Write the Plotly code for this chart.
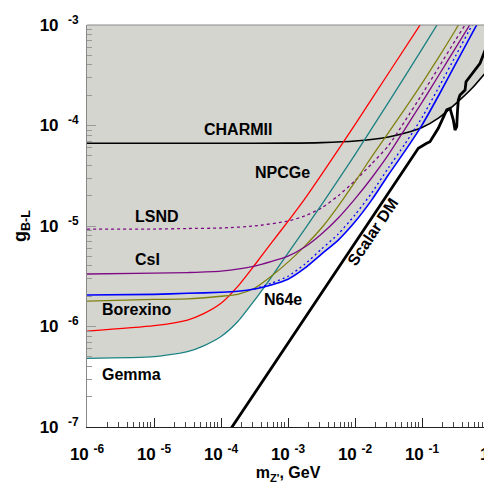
import numpy as np
import plotly.graph_objects as go

# ---------------- data ----------------
# Z' mass in GeV, coupling g_{B-L}
NPCGE_M = [1e-6, 1e-5, 3.16e-5, 5.62e-5, 1e-4, 1.78e-4, 3.16e-4, 5.62e-4, 1e-3, 1.78e-3, 3.16e-3, 1e-2, 3.16e-2, 0.1]
NPCGE_G = [9.0e-7, 1.02e-6, 1.16e-6, 1.35e-6, 1.70e-6, 2.51e-6, 4.07e-6, 6.76e-6, 1.11e-5, 1.86e-5, 3.24e-5, 1.02e-4, 3.31e-4, 1.07e-3]

GEMMA_M = [1e-6, 1e-5, 3.16e-5, 5.62e-5, 1e-4, 1.78e-4, 3.16e-4, 5.62e-4, 1e-3, 1.78e-3, 3.16e-3, 5.62e-3,
           1e-2, 3.16e-2, 0.1, 0.178]
GEMMA_G = [4.82e-7, 5.01e-7, 5.62e-7, 6.46e-7, 7.94e-7, 1.12e-6, 1.82e-6, 3.09e-6, 5.37e-6, 9.33e-6, 1.62e-5, 2.88e-5,
           5.13e-5, 1.70e-4, 5.75e-4, 1.07e-3]

BOREXINO_M = [1e-6, 1e-5, 3.16e-5, 1e-4, 1.78e-4, 3.16e-4, 5.62e-4, 1e-3, 1.78e-3, 3.16e-3, 5.62e-3, 1e-2,
              1.78e-2, 3.16e-2, 5.62e-2, 0.1, 0.178, 0.316, 0.398]
BOREXINO_G = [1.79e-6, 1.86e-6, 1.88e-6, 2.0e-6, 2.09e-6, 2.40e-6, 3.16e-6, 4.37e-6, 6.31e-6, 9.55e-6, 1.58e-5, 2.75e-5,
              4.90e-5, 8.51e-5, 1.48e-4, 2.63e-4, 4.79e-4, 8.91e-4, 1.17e-3]

N64E_M = [1e-6, 1e-5, 3.16e-5, 1e-4, 1.78e-4, 3.16e-4, 5.62e-4, 1e-3, 1.78e-3, 3.16e-3, 5.62e-3, 1e-2,
          1.78e-2, 3.16e-2, 5.62e-2, 0.1, 0.178, 0.316, 0.562, 0.708]
N64E_G = [2.06e-6, 2.09e-6, 2.14e-6, 2.19e-6, 2.24e-6, 2.36e-6, 2.59e-6, 2.95e-6, 3.80e-6, 5.25e-6, 7.24e-6, 1.10e-5,
          1.82e-5, 3.24e-5, 5.62e-5, 1.01e-4, 2.0e-4, 4.07e-4, 8.32e-4, 1.10e-3]

N64E_DOT_M = [3.16e-4, 5.62e-4, 1e-3, 1.78e-3, 3.16e-3, 5.62e-3, 1e-2, 1.78e-2, 3.16e-2, 5.62e-2, 0.1, 0.178, 0.316, 0.562, 0.631]
N64E_DOT_G = [2.36e-6, 2.69e-6, 3.16e-6, 4.17e-6, 5.89e-6, 8.32e-6, 1.29e-5, 2.14e-5, 3.80e-5, 6.61e-5, 1.20e-4, 2.40e-4, 4.90e-4, 1.0e-3, 1.12e-3]

CSI_M = [1e-6, 1e-5, 3.16e-5, 1e-4, 3.16e-4, 1e-3, 1.78e-3, 3.16e-3, 5.62e-3, 1e-2, 1.78e-2, 3.16e-2, 5.62e-2,
         0.1, 0.178, 0.316, 0.562]
CSI_G = [3.33e-6, 3.39e-6, 3.44e-6, 3.55e-6, 3.98e-6, 5.01e-6, 6.17e-6, 8.32e-6, 1.20e-5, 1.86e-5, 3.02e-5, 5.13e-5, 9.33e-5,
         1.70e-4, 3.16e-4, 5.89e-4, 1.10e-3]

LSND_M = [1e-6, 1e-5, 3.16e-5, 1e-4, 3.16e-4, 1e-3, 1.78e-3, 3.16e-3, 5.62e-3, 1e-2, 1.78e-2, 3.16e-2, 5.62e-2,
          0.1, 0.178, 0.316, 0.501]
LSND_G = [9.33e-6, 9.33e-6, 9.44e-6, 9.55e-6, 1.0e-5, 1.12e-5, 1.26e-5, 1.51e-5, 2.0e-5, 2.82e-5, 4.17e-5, 6.31e-5, 1.12e-4,
          2.04e-4, 3.80e-4, 7.08e-4, 1.15e-3]

CHARM_M = [1e-6, 1e-4, 1e-3, 3.16e-3, 1e-2, 3.16e-2, 5.62e-2, 0.1, 0.178, 0.316, 0.562, 1.0]
CHARM_G = [6.65e-5, 6.65e-5, 6.68e-5, 6.76e-5, 7.01e-5, 7.69e-5, 8.41e-5, 9.55e-5, 1.19e-4, 1.64e-4, 2.36e-4, 3.69e-4]

SCALAR_M = [1e-4, 6.61e-2, 8.81e-2, 0.1175, 0.1315, 0.175, 0.234, 0.262, 0.293, 0.311, 0.330, 0.337, 0.348,
            0.369, 0.439, 0.454, 0.520, 0.735, 1.0]
SCALAR_G = [6.86e-8, 4.53e-5, 5.93e-5, 6.65e-5, 6.90e-5, 9.38e-5, 1.43e-4, 1.48e-4, 1.14e-4, 9.02e-5, 9.73e-5, 1.32e-4, 1.79e-4,
            2.01e-4, 2.25e-4, 2.73e-4, 3.06e-4, 4.16e-4, 7.08e-4]

X_TICKS = [1e-6, 1e-5, 1e-4, 1e-3, 1e-2, 1e-1]
X_TICKTEXT = ["10&nbsp;<sup>-6</sup>", "10&nbsp;<sup>-5</sup>", "10&nbsp;<sup>-4</sup>", "10&nbsp;<sup>-3</sup>",
              "10&nbsp;<sup>-2</sup>", "10&nbsp;<sup>-1</sup>"]
X_LAST_TICK = "1"   # label of the 10^0 tick at the right edge
Y_TICKS = [1e-7, 1e-6, 1e-5, 1e-4, 1e-3]
Y_TICKTEXT = ["10&nbsp;&nbsp;<sup>-7</sup>", "10&nbsp;&nbsp;<sup>-6</sup>", "10&nbsp;&nbsp;<sup>-5</sup>",
              "10&nbsp;&nbsp;<sup>-4</sup>", "10&nbsp;&nbsp;<sup>-3</sup>"]

# ---------------- styling ----------------
GRAY = "#d5d5d0"
RED = "#ff0000"
TEAL = "#1a8080"
OLIVE = "#808010"
PURPLE = "#7d0a84"
BLUE = "#0000ff"
FONT = "Liberation Sans, Arial, Helvetica, sans-serif"

# lower envelope of the excluded (gray) region: min of Gemma, N64e, CHARMII
def _lg(a):
    return np.log10(np.asarray(a, dtype=float))

fine = np.linspace(-6, 0, 721)
env = np.minimum.reduce([
    np.interp(fine, _lg(GEMMA_M), _lg(GEMMA_G), right=5.0),
    np.interp(fine, _lg(N64E_M), _lg(N64E_G), right=5.0),
    np.interp(fine, _lg(CHARM_M), _lg(CHARM_G)),
])
fine_m = 10 ** fine
env_g = 10 ** env

fig = go.Figure()
# white (allowed) area below the envelope; plot background is gray
fig.add_trace(go.Scatter(x=fine_m, y=np.full_like(fine_m, 1e-9), mode="lines",
                         line=dict(width=0, color="white"), hoverinfo="skip", showlegend=False))
fig.add_trace(go.Scatter(x=fine_m, y=env_g, mode="lines", fill="tonexty", fillcolor="white",
                         line=dict(width=0, color="white"), hoverinfo="skip", showlegend=False))

def curve(m, g, color, width=1.3, dash="solid"):
    fig.add_trace(go.Scatter(x=m, y=g, mode="lines", showlegend=False,
                             line=dict(color=color, width=width, dash=dash, shape="spline", smoothing=0.6)))

curve(CHARM_M, CHARM_G, "black", 1.6)
curve(LSND_M, LSND_G, PURPLE, 1.3, "3px,3px")
curve(NPCGE_M, NPCGE_G, RED, 1.3)
curve(GEMMA_M, GEMMA_G, TEAL, 1.3)
curve(BOREXINO_M, BOREXINO_G, OLIVE, 1.3)
curve(CSI_M, CSI_G, PURPLE, 1.3)
curve(N64E_DOT_M, N64E_DOT_G, BLUE, 1.3, "2px,3px")
curve(N64E_M, N64E_G, BLUE, 1.6)
fig.add_trace(go.Scatter(x=SCALAR_M, y=SCALAR_G, mode="lines", showlegend=False,
                         line=dict(color="black", width=2.8)))

minor_x = [k * 10.0 ** e for e in range(-6, 0) for k in range(2, 10)]
minor_y = [k * 10.0 ** e for e in range(-7, -3) for k in range(2, 10)]

tickfont = dict(family=FONT, size=17, color="black", weight="bold")
fig.update_xaxes(type="log", range=[-6, 0], tickmode="array", tickvals=X_TICKS, ticktext=X_TICKTEXT,
                 ticks="inside", ticklen=9, tickcolor="#222", tickwidth=1, automargin=False,
                 minor=dict(tickmode="array", tickvals=minor_x, ticks="inside", ticklen=5, tickcolor="#444"),
                 showgrid=False, zeroline=False, showline=True, linecolor="#222", linewidth=1,
                 tickfont=tickfont, ticklabelstandoff=12,
                 title=dict(text="m<sub>Z'</sub>, GeV", font=dict(family=FONT, size=16, color="black", weight="bold"),
                            standoff=0))
fig.update_yaxes(type="log", range=[-7, -3], tickmode="array", tickvals=Y_TICKS, ticktext=Y_TICKTEXT,
                 ticks="inside", ticklen=9, tickcolor="#999", tickwidth=1, automargin=False,
                 ticklabeloverflow="allow",
                 minor=dict(tickmode="array", tickvals=minor_y, ticks="inside", ticklen=5, tickcolor="#999"),
                 showgrid=False, zeroline=False, showline=True, linecolor="#888", linewidth=1, mirror=True,
                 tickfont=tickfont, ticklabelstandoff=4,
                 title=dict(text="g<sub>B-L</sub>", font=dict(family=FONT, size=18, color="black", weight="bold"),
                            standoff=8))

# major tick at 10^0 on the right edge (label kept inside the page)
fig.add_annotation(x=0, y=0, xref="x", yref="paper", text=X_LAST_TICK, showarrow=False,
                   xanchor="right", yanchor="middle", xshift=2, yshift=-27,
                   font=dict(family=FONT, size=17, color="black", weight="bold"))

labels = [
    ("CHARMII", -3.739, -4.035, 0),
    ("NPCGe", -3.075, -4.468, 0),
    ("LSND", -4.948, -4.905, 0),
    ("CsI", -5.097, -5.338, 0),
    ("Borexino", -5.254, -5.831, 0),
    ("Gemma", -5.336, -6.473, 0),
    ("N64e", -3.075, -5.736, 0),
    ("Scalar DM", -1.746, -5.06, -56),
]
for txt, lx, ly, ang in labels:
    fig.add_annotation(x=lx, y=ly, xref="x", yref="y", text=txt, showarrow=False, textangle=ang,
                       xanchor="center", yanchor="middle",
                       font=dict(family=FONT, size=16, color="black", weight="bold"))

fig.add_shape(type="line", xref="paper", yref="paper", x0=0, x1=1, y0=1, y1=1,
              line=dict(color="#888", width=1))

# the page body keeps its default 8px margin, so the figure is offset by 8px
fig.update_layout(width=484, height=479, margin=dict(l=79, r=3, t=17, b=60),
                  paper_bgcolor="white", plot_bgcolor=GRAY, showlegend=False)

fig.write_html("out.html", config={"displayModeBar": False})
